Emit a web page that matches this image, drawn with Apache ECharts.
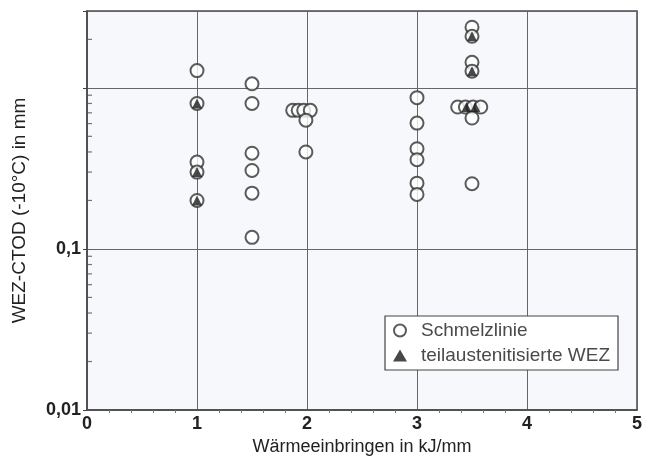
<!DOCTYPE html>
<html>
<head>
<meta charset="utf-8">
<script src="https://cdn.jsdelivr.net/npm/echarts@6/dist/echarts.min.js"></script>
<style>
  html, body { margin: 0; padding: 0; background: #ffffff; }
  #chart { width: 651px; height: 466px; }
</style>
</head>
<body>
<div id="chart"></div>
<script>
// Wärmeeinbringen (kJ/mm) und WEZ-CTOD bei -10 °C (mm)
const schmelzlinieX = [1, 1, 1, 1, 1,
  1.5, 1.5, 1.5, 1.5, 1.5, 1.5,
  1.87, 1.92, 1.97, 2.03, 1.99, 1.99,
  3, 3, 3, 3, 3, 3,
  3.5, 3.5, 3.5, 3.5, 3.37, 3.44, 3.51, 3.58, 3.5, 3.5];
const schmelzlinieY = [1.28, 0.80, 0.346, 0.30, 0.20,
  1.06, 0.80, 0.393, 0.307, 0.222, 0.118,
  0.725, 0.725, 0.725, 0.725, 0.63, 0.40,
  0.869, 0.604, 0.419, 0.358, 0.256, 0.218,
  2.38, 2.09, 1.44, 1.27, 0.76, 0.76, 0.76, 0.76, 0.65, 0.254];

const wezX = [1, 1, 1, 3.5, 3.5, 3.45, 3.53];
const wezY = [0.80, 0.30, 0.20, 2.09, 1.27, 0.76, 0.76];

// logarithmic minor tick positions on the CTOD axis
const minorTickValues = [0.02, 0.03, 0.04, 0.05, 0.06, 0.07, 0.08, 0.09,
  0.2, 0.3, 0.4, 0.5, 0.6, 0.7, 0.8, 0.9, 2];

const xTicks = [0, 1, 2, 3, 4, 5];
const yLabels = { '0.01': '0,01', '0.1': '0,1' };

const zip = (xs, ys) => xs.map((x, i) => [x, ys[i]]);

const font = 'Liberation Sans, Arial, Helvetica, sans-serif';
const chart = echarts.init(document.getElementById('chart'), null, { renderer: 'canvas' });

chart.setOption({
  animation: false,
  backgroundColor: '#ffffff',
  grid: {
    left: 87, right: 14, top: 11, bottom: 56,
    show: true, backgroundColor: '#f6f8fb',
    borderColor: '#4a4a4a', borderWidth: 1.5
  },
  xAxis: {
    type: 'value', min: xTicks[0], max: xTicks[xTicks.length - 1], interval: 1,
    name: 'Wärmeeinbringen in kJ/mm', nameLocation: 'middle', nameGap: 25,
    nameTextStyle: { fontFamily: font, fontSize: 18, color: '#222' },
    axisLine: { show: true, lineStyle: { color: '#4a4a4a', width: 1.5 } },
    axisTick: { show: false },
    minorTick: { show: true, splitNumber: 5, length: 3, lineStyle: { color: '#777' } },
    axisLabel: { fontFamily: font, fontSize: 18, fontWeight: 'bold', color: '#222', margin: 5 },
    splitLine: { show: true, lineStyle: { color: '#666', width: 1 } }
  },
  yAxis: {
    type: 'log', logBase: 10, min: 0.01, max: 3,
    name: 'WEZ-CTOD (-10°C) in mm', nameLocation: 'middle', nameGap: 58,
    nameTextStyle: { fontFamily: font, fontSize: 19, color: '#222' },
    axisLine: { show: true, lineStyle: { color: '#4a4a4a', width: 1.5 } },
    axisTick: { show: true, inside: false, length: 4, lineStyle: { color: '#444' } },
    axisLabel: {
      fontFamily: font, fontSize: 18, fontWeight: 'bold', color: '#222', margin: 6,
      formatter: v => yLabels[String(+v.toPrecision(3))] || ''
    },
    splitLine: { show: true, lineStyle: { color: '#666', width: 1 } }
  },
  legend: {
    left: 385, top: 316, orient: 'vertical',
    data: [
      { name: 'Schmelzlinie', icon: 'emptyCircle' },
      { name: 'teilaustenitisierte WEZ', icon: 'triangle' }
    ],
    backgroundColor: '#ffffff', borderColor: '#444', borderWidth: 1.2,
    padding: [5, 8, 5, 8], itemGap: 6, itemWidth: 14, itemHeight: 12,
    textStyle: { fontFamily: font, fontSize: 19, color: '#4a4a4a', padding: [0, 0, 0, 9] }
  },
  series: [
    {
      name: 'Schmelzlinie', type: 'scatter', symbol: 'emptyCircle', symbolSize: 13,
      itemStyle: { color: '#333', borderColor: '#333', borderWidth: 1.4 },
      data: zip(schmelzlinieX, schmelzlinieY), z: 3
    },
    {
      name: 'teilaustenitisierte WEZ', type: 'scatter', symbol: 'triangle', symbolSize: 10,
      itemStyle: { color: '#1a1a1a' },
      data: zip(wezX, wezY), z: 4
    },
    {
      name: 'minor', type: 'scatter', symbol: 'rect', symbolSize: [5, 1.2],
      symbolOffset: [2.5, 0], clip: false, silent: true,
      itemStyle: { color: '#555' },
      data: minorTickValues.map(v => [0, v]), z: 5
    }
  ]
});
</script>
</body>
</html>
